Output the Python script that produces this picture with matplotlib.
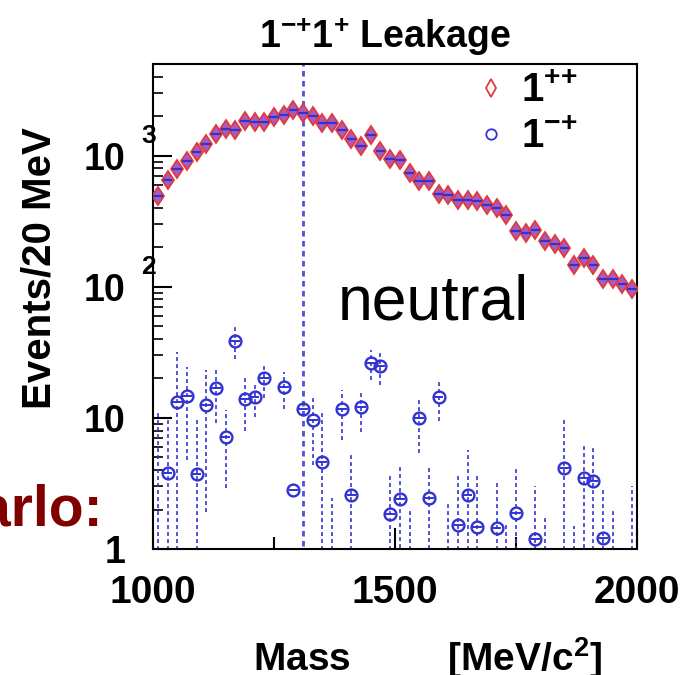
import numpy as np
import matplotlib
matplotlib.use("Agg")
import matplotlib.pyplot as plt
from matplotlib.lines import Line2D
from matplotlib.ticker import FixedLocator, LogLocator, NullFormatter
import matplotlib.transforms as mtransforms

plt.rcParams['font.family'] = ['Liberation Sans', 'DejaVu Sans']
plt.rcParams['mathtext.fontset'] = 'custom'
plt.rcParams['mathtext.rm'] = 'Liberation Sans'
plt.rcParams['mathtext.bf'] = 'Liberation Sans:bold'

# 20 MeV bins between 1000 and 2000 MeV
bin_lo, bin_hi, bin_w = 1000, 2000, 20
mass = np.arange(bin_lo + bin_w / 2, bin_hi, bin_w)

# 1++ events per bin
axial = [490, 656, 796, 906, 1060, 1236, 1466, 1607, 1560, 1850,
         1800, 1800, 1973, 2056, 2218, 2118, 1995, 1777, 1777, 1560,
         1340, 1178, 1430, 1080, 948, 920, 738, 645, 645, 512,
         505, 462, 462, 453, 423, 398, 355, 265, 257, 270,
         222, 212, 197, 147, 166, 147, 115, 115, 105, 96]

# 1-+ leakage per bin (nan = empty bin, 0 = only an error bar)
exotic = [0, 3.8, 13.1, 14.7, 3.7, 12.6, 16.9, 7.2, 38.9, 14.0,
          14.5, 20.1, np.nan, 17.1, 2.8, 11.7, 9.7, 4.6, 0, 11.6,
          2.6, 12.1, 26.2, 24.9, 1.85, 2.4, 0, 9.95, 2.44, 14.5,
          0, 1.52, 2.6, 1.46, np.nan, 1.44, 0, 1.89, np.nan, 1.19,
          0, np.nan, 4.17, 0, 3.5, 3.3, 1.22, 0, np.nan, 0]
exotic_err = [11, 6.4, 18.9, 9.9, 6.5, 10.7, 7.7, 4.3, 10.6, 6.0,
              4.4, 5.9, 0, 5.4, 0, 6000, 5.3, 6.9, 2.45, 4.8,
              2.8, 4.3, 6.8, 7.1, 1.95, 1.85, 1.98, 4.55, 1.96, 5.0,
              2.2, 2.28, 3.1, 2.34, 0, 1.76, 1.6, 2.36, 0, 1.81,
              1.76, 0, 5.43, 1.5, 2.7, 2.7, 1.58, 2.0, 0, 3.0]

red = '#e23a3a'
blue = '#3232d2'
half_bin = np.full(len(mass), bin_w / 2)

fig = plt.figure(figsize=(6.88, 6.75), dpi=100)
ax = fig.add_axes([0.2224, 0.1867, 0.7035, 0.7185])
ax.set_yscale('log', nonpositive='clip')
ax.set_xlim(bin_lo, bin_hi)
ax.set_ylim(1, 5000)

# 1-+ : dashed vertical errors, solid bin-width bars, open circles
eb = ax.errorbar(mass, exotic, yerr=exotic_err, fmt='none', ecolor=blue,
                 elinewidth=1.4, zorder=2)
for col in eb[2]:
    col.set_linestyle((0, (2.0, 1.6)))
    col.set_alpha(0.85)
    # the bin whose error runs off the plot gets a slightly heavier line
    col.set_linewidths([2.0 if e > 1000 else 1.4 for e in exotic_err])
ax.errorbar(mass, exotic, xerr=half_bin, fmt='none', ecolor=blue,
            elinewidth=1.4, zorder=3)
ax.plot(mass, exotic, 'o', ms=8.5, mfc='none', mec=blue, mew=1.7, zorder=4)

# 1++ : diamonds with the bin cross drawn on top
ax.plot(mass, axial, 'd', ms=9.5, mfc='#a85cc0', mec=red, mew=1.3, zorder=5)
ax.errorbar(mass, axial, xerr=half_bin, fmt='none', ecolor=blue,
            elinewidth=1.6, zorder=6)

# axes styling
for sp in ax.spines.values():
    sp.set_linewidth(1.5)
ax.xaxis.set_major_locator(FixedLocator([1000, 1500, 2000]))
ax.xaxis.set_minor_locator(FixedLocator([1250, 1750]))
ax.set_xticklabels(['1000', '1500', '2000'], fontsize=28, fontweight='bold')
ax.tick_params(axis='x', which='major', direction='in', length=15, width=1.5, pad=19)
ax.tick_params(axis='x', which='minor', direction='in', length=9, width=1.5)

decades = [1, 10, 100, 1000]
ax.yaxis.set_major_locator(FixedLocator(decades))
ax.yaxis.set_minor_locator(LogLocator(base=10, subs=np.arange(2, 10)))
ax.yaxis.set_minor_formatter(NullFormatter())
ax.set_yticklabels(['1', '10', '10', '10'], fontsize=27, fontweight='bold')
ax.tick_params(axis='y', which='major', direction='in', length=14, width=1.5, pad=20)
ax.tick_params(axis='y', which='minor', direction='in', length=7, width=1.2)

# exponents of the decade labels, ROOT style
expo_tr = mtransforms.offset_copy(
    mtransforms.blended_transform_factory(ax.transAxes, ax.transData),
    fig=fig, x=0, y=14, units='points')
for d in decades[2:]:
    ax.text(-0.025, d, str(int(np.log10(d))), transform=expo_tr,
            ha='left', va='center', fontsize=19, fontweight='bold')

ax.set_xlabel(r'Mass         [MeV/c$^{\mathbf{2}}$]', fontsize=28, fontweight='bold')
ax.xaxis.set_label_coords(0.568, -0.178)
fig.text(40 / 688, 1 - 268 / 675, 'Events/20 MeV', rotation=90, fontsize=29,
         fontweight='bold', ha='center', va='center')
fig.text(385 / 688, 1 - 37 / 675, r'$\mathbf{1^{{-}{+}}1^{+}}$ Leakage', fontsize=27,
         fontweight='bold', ha='center', va='center')

handles = [Line2D([], [], ls='none', marker='d', ms=9, mfc='none', mec=red, mew=1.3),
           Line2D([], [], ls='none', marker='o', ms=7.5, mfc='none', mec=blue, mew=1.3)]
ax.legend(handles, [r'$\mathbf{1^{{+}{+}}}$', r'$\mathbf{1^{{-}{+}}}$'], loc='upper left',
          bbox_to_anchor=(0.615, 1.025), frameon=False, fontsize=29,
          handlelength=1.0, handletextpad=0.25, borderpad=0, labelspacing=0.2)

fig.text(338 / 688, 1 - 320 / 675, 'neutral', fontsize=45, va='baseline', ha='left')
fig.text(103 / 688, 1 - 525 / 675, 'Carlo:', fontsize=41, fontweight='bold',
         color='#800000', va='baseline', ha='right')

fig.savefig('out.png', dpi=100)
